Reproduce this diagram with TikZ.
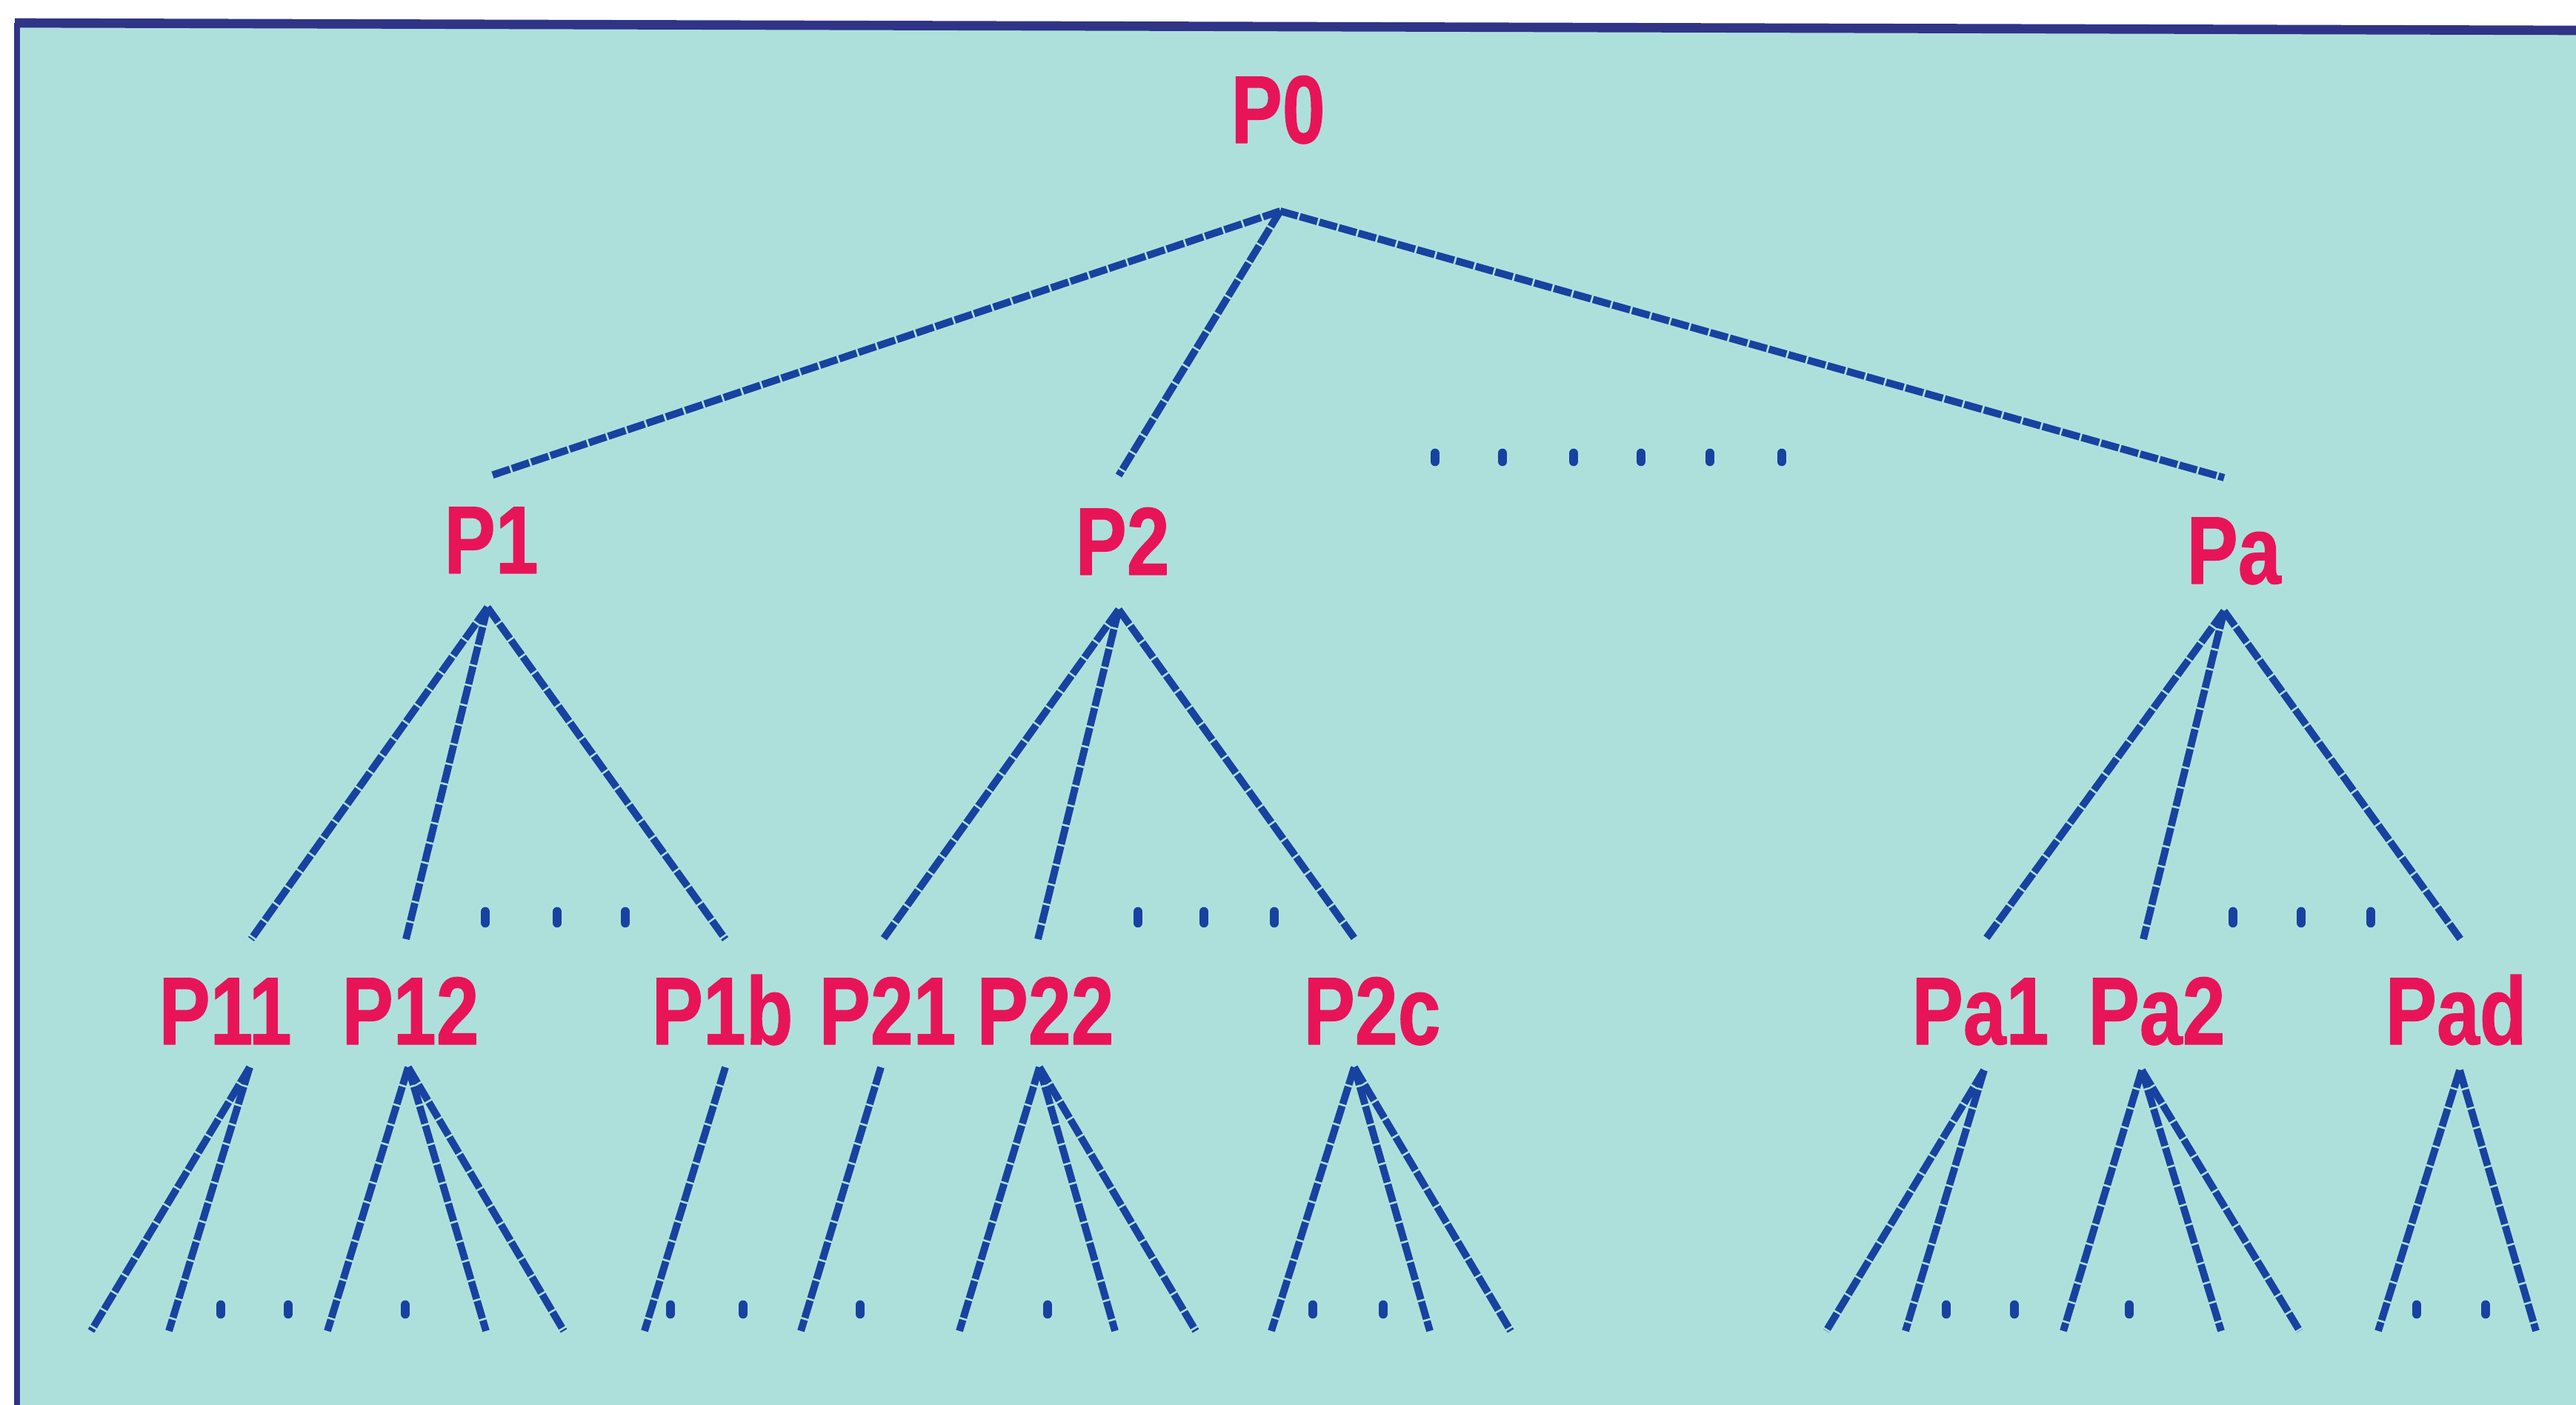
\documentclass[tikz,border=0pt]{standalone}
\usepackage{fontspec}
\newfontfamily\labfont{Liberation Sans}[FakeStretch=0.8,FakeBold=0.8]
\definecolor{paper}{RGB}{174,224,219}
\definecolor{treeblue}{RGB}{24,66,160}
\definecolor{labelred}{RGB}{232,20,88}
\definecolor{framecol}{RGB}{48,52,135}

\begin{document}
\begin{tikzpicture}[line join=round]
  \tikzstyle{lab}=[text=labelred,font=\labfont\bfseries\fontsize{37}{40}\selectfont,inner sep=0pt,anchor=base]
  \tikzstyle{edge}=[draw=treeblue,line width=2.8pt,dash pattern=on 7pt off 0.8pt]
  \tikzstyle{leaf}=[edge]
  \tikzstyle{dotbar}=[draw=treeblue,line width=3.6pt,line cap=round]

  % paper and frame
  \useasboundingbox (0,0) rectangle (34.77,-18.97);
  \fill[white] (0,0) rectangle (34.77,-18.97);
  \fill[paper] (0.23,-0.36) rectangle (34.77,-18.97);
  \draw[framecol,line width=3.6pt] (0.20,-0.31) -- (34.77,-0.41);
  \draw[framecol,line width=2pt] (0.23,-0.31) -- (0.23,-18.97);

  % labels
  \node[lab] (P0) at (17.25,-1.93) {P0};
  \node[lab] (P1) at (6.63,-7.74) {P1};
  \node[lab] (P2) at (15.15,-7.76) {P2};
  \node[lab] (Pa) at (30.15,-7.88) {Pa};
  \node[lab] (P11) at (3.04,-14.10) {P11};
  \node[lab] (P12) at (5.54,-14.10) {P12};
  \node[lab] (P1b) at (9.75,-14.10) {P1b};
  \node[lab] (P21) at (11.98,-14.10) {P21};
  \node[lab] (P22) at (14.11,-14.10) {P22};
  \node[lab] (P2c) at (18.52,-14.10) {P2c};
  \node[lab] (Pa1) at (26.73,-14.10) {Pa1};
  \node[lab] (Pa2) at (29.11,-14.10) {Pa2};
  \node[lab] (Pad) at (33.15,-14.10) {Pad};

  % line ends above and below each label
  \coordinate (P0-out) at (17.28,-2.85);
  \coordinate (P1-in) at (6.63,-6.42);
  \coordinate (P2-in) at (15.10,-6.42);
  \coordinate (Pa-in) at (30.02,-6.45);
  \coordinate (P1-out) at (6.58,-8.20);
  \coordinate (P2-out) at (15.10,-8.23);
  \coordinate (Pa-out) at (30.02,-8.25);
  \foreach \n/\x/\y/\z in {P11/3.39/3.37/-14.41, P12/5.48/5.51/-14.41, P1b/9.79/9.79/-14.41,
      P21/11.92/11.89/-14.41, P22/14.01/14.03/-14.41, P2c/18.29/18.28/-14.41,
      Pa1/26.80/26.78/-14.45, Pa2/28.93/28.91/-14.45, Pad/33.21/33.20/-14.45}{
    \coordinate (\n-in) at (\x,-12.68);
    \coordinate (\n-out) at (\y,\z);
  }

  \draw[edge] (P0-out) -- (P1-in);
  \draw[edge] (P0-out) -- (P2-in);
  \draw[edge] (P0-out) -- (Pa-in);
  \foreach \x in {19.37,20.28,21.24,22.15,23.08,24.05}
    \draw[dotbar] (\x,-6.12) -- (\x,-6.23);

  \foreach \p/\c in {P1/P11,P1/P12,P1/P1b,P2/P21,P2/P22,P2/P2c,Pa/Pa1,Pa/Pa2,Pa/Pad}
    \draw[edge] (\p-out) -- (\c-in);
  \foreach \x in {6.55,7.52,8.44,15.36,16.25,17.20,30.14,31.06,32.00}
    \draw[dotbar] (\x,-12.31) -- (\x,-12.46);

  % leaves
  \foreach \n/\x [count=\i] in {P11/1.23,P11/2.28,P12/4.42,P12/6.56,P12/7.61,P1b/8.70,
      P21/10.81,P22/12.95,P22/15.05,P22/16.14,P2c/17.16,P2c/19.30,P2c/20.39,
      Pa1/24.65,Pa1/25.72,Pa2/27.85,Pa2/29.98,Pa2/31.04,Pad/32.10,Pad/34.23}{
    \coordinate (leaf-\i) at (\x,-17.97);
    \draw[leaf] (\n-out) -- (leaf-\i);
  }
  \foreach \x in {2.98,3.89,5.47,9.05,10.03,11.61,14.14,17.72,18.67,26.27,27.19,28.74,32.62,33.55}
    \draw[dotbar] (\x,-17.62) -- (\x,-17.74);
\end{tikzpicture}
\end{document}
